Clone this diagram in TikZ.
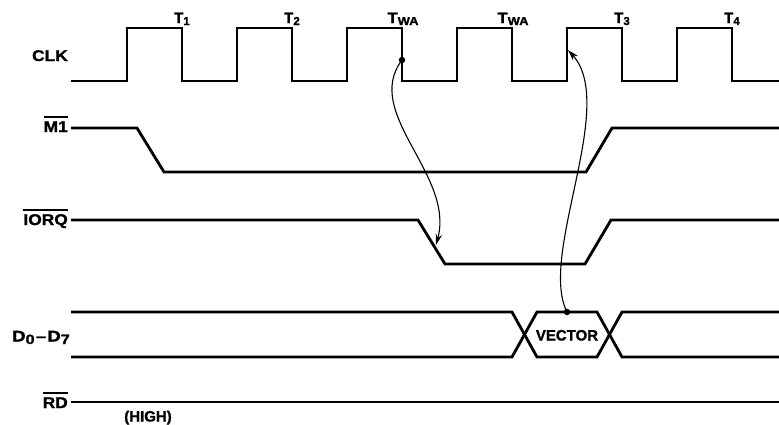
\documentclass[tikz,border=0pt]{standalone}
\usepackage{fontspec}
\setmainfont{Liberation Sans}
\newfontfamily\heavy[FakeBold=1.3,Ligatures=TeX]{Liberation Sans}
\usetikzlibrary{arrows.meta}
\newcommand{\ovl}[1]{\vbox{\hrule height 1.4pt\kern 3.5pt\hbox{#1}}}
\newcommand{\subsm}[1]{\raisebox{-2pt}{\fontsize{11.5}{12}\selectfont #1}}
\newcommand{\subbig}[1]{\raisebox{-2.5pt}{\fontsize{13.5}{14}\selectfont #1}}
\newcommand{\wide}[1]{\scalebox{1.12}[1]{#1}}
\begin{document}
\begin{tikzpicture}[x=1pt,y=-1pt,
  sig/.style={line width=2.8pt},
  lbl/.style={font=\fontsize{15.5}{16}\heavy\bfseries, inner sep=0pt, anchor=base east},
  tlbl/.style={font=\fontsize{15}{16}\heavy\bfseries, inner sep=0pt, anchor=base},
  txt/.style={font=\fontsize{15}{16}\heavy\bfseries, inner sep=0pt, anchor=base},
  conn/.style={line width=1.1pt, -{Stealth[length=11pt,width=6.5pt]}},
  dot/.style={circle, fill=black, inner sep=0pt, minimum size=6.5pt}]
\useasboundingbox (0,0) rectangle (779,424);

% signal labels
\node[lbl] (clkL) at (68,61) {\wide{CLK}};
\node[lbl] (m1L) at (68,132) {\wide{\ovl{M1}}};
\node[lbl] (iorqL) at (68,225) {\wide{\ovl{IORQ}}};
\node[lbl] (dL) at (70,341.5) {\scalebox{1.2}[1]{D\subbig{0}\kern1pt–\kern1ptD\subbig{7}}};
\node[lbl] (rdL) at (68,408) {\wide{\ovl{RD}}};
\node[txt] (high) at (148,421.5) {(HIGH)};

% T-state labels
\node[tlbl] (t1) at (182,23) {T\subsm{1}};
\node[tlbl] (t2) at (292,23) {T\subsm{2}};
\node[tlbl] (twa1) at (403,23) {\wide{T\subsm{WA}}};
\node[tlbl] (twa2) at (513,23) {\wide{T\subsm{WA}}};
\node[tlbl] (t3) at (622,23) {T\subsm{3}};
\node[tlbl] (t4) at (732,23) {T\subsm{4}};

% CLK
\draw[sig] (71,81) -- (127,81) -- (127,28) -- (182,28) -- (182,81)
  -- (237,81) -- (237,28) -- (292,28) -- (292,81)
  -- (347,81) -- (347,28) -- (402,28) -- (402,81)
  -- (457,81) -- (457,28) -- (512,28) -- (512,81)
  -- (567,81) -- (567,28) -- (622,28) -- (622,81)
  -- (677,81) -- (677,28) -- (732,28) -- (732,81) -- (779,81);

% M1
\draw[sig] (71,128) -- (137,128) -- (164,172) -- (586,172) -- (612,128) -- (779,128);

% IORQ
\draw[sig] (71,220) -- (418,220) -- (445,264) -- (585,264) -- (611,220) -- (779,220);

% D0-D7
\draw[sig] (71,312) -- (512,312) -- (537,357) -- (597,357) -- (622,312) -- (779,312);
\draw[sig] (71,357) -- (512,357) -- (537,312) -- (597,312) -- (622,357) -- (779,357);
\node[txt] (vec) at (567,340.5) {VECTOR};

% RD
\draw[sig] (71,402) -- (779,402);

% causal arrows
\node[dot] (dotA) at (402,60) {};
\coordinate (tipA) at (436,245);
\node[dot] (dotB) at (567,312) {};
\coordinate (tipB) at (568,50);
\draw[conn] (dotA.center) .. controls (362,113) and (455,175) .. (tipA);
\draw[conn] (dotB.center) .. controls (538,255) and (618,105) .. (tipB);
\end{tikzpicture}
\end{document}
